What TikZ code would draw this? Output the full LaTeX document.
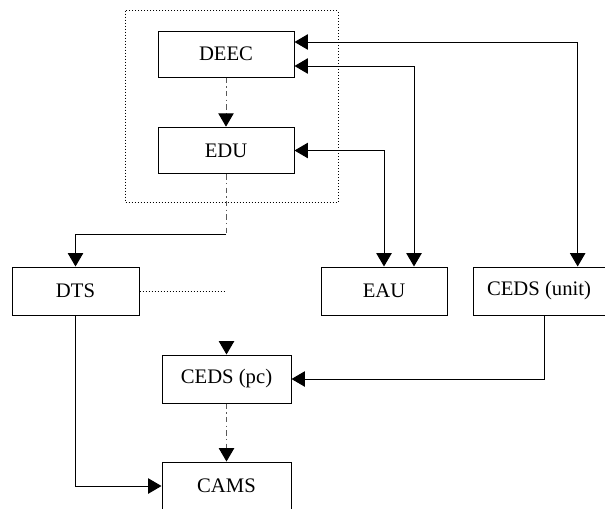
\documentclass[tikz,border=0pt]{standalone}
\usepackage{fontspec}
\setmainfont{Liberation Serif}
\usetikzlibrary{arrows.meta}

\tikzset{every picture/.style={line width=0.75pt}}
\tikzset{
  unitbox/.style={draw, rectangle, inner sep=0pt, minimum height=36pt, font=\fontsize{15.5}{18}\selectfont},
  tipend/.style={-{Triangle[length=10pt,width=11.5pt,color=black]}},
  tipboth/.style={{Triangle[length=10pt,width=11.5pt]}-{Triangle[length=10pt,width=11.5pt]}},
  dashdotline/.style={draw=black!65, dash pattern={on 4pt off 2.5pt on 1pt off 2.5pt}},
  dotline/.style={line width=0.6pt, dash pattern={on 0.75pt off 1.5pt}}
}

\begin{document}
\begin{tikzpicture}[x=0.75pt,y=0.75pt,yscale=-1,xscale=1]
\useasboundingbox (0,0) rectangle (605,508);

%Shape: Rectangle (dotted frame round DEEC and EDU)
\draw [dotline] (125,10.5) rectangle (338,202);

% Boxes
\node [unitbox, minimum width=102pt, minimum height=34.5pt] (deec) at (226,54) {DEEC};
\node [unitbox, minimum width=102pt, minimum height=35pt] (edu) at (226,150.5) {EDU};
\node [unitbox, minimum width=95.25pt] (dts) at (75.5,291) {DTS};
\node [unitbox, minimum width=94.5pt] (eau) at (384,291) {EAU};
\node [unitbox, minimum width=99pt] (unit) at (539,291) {CEDS (unit)};
\node [unitbox, minimum width=96.75pt] (pc) at (226.5,379) {CEDS (pc)};
\node [unitbox, minimum width=96.75pt] (cams) at (226.5,486) {CAMS};

% Free ends
\coordinate (bend) at (226,234);
\coordinate (dtsend) at (226,291);

%Straight Lines
\draw [dashdotline, tipend] (deec.south) -- (edu.north);
\draw [dashdotline] (edu.south) -- (bend);
\draw [tipend] (bend) -| (dts.north);
\draw [dotline] (dts.east) -- (dtsend);
\draw [tipboth] ([yshift=-9pt]deec.east) -| ([xshift=29pt]unit.north);
\draw [tipboth] ([yshift=9pt]deec.east) -| ([xshift=22.5pt]eau.north);
\draw [tipboth] (edu.east) -| (eau.north);
\draw [tipend] ([xshift=3.75pt]unit.south) |- (pc.east);
\draw [tipend] ([yshift=-10pt]pc.north) -- (pc.north);
\draw [dashdotline, tipend] (pc.south) -- (cams.north);
\draw [tipend] (dts.south) |- (cams.west);

\end{tikzpicture}
\end{document}
